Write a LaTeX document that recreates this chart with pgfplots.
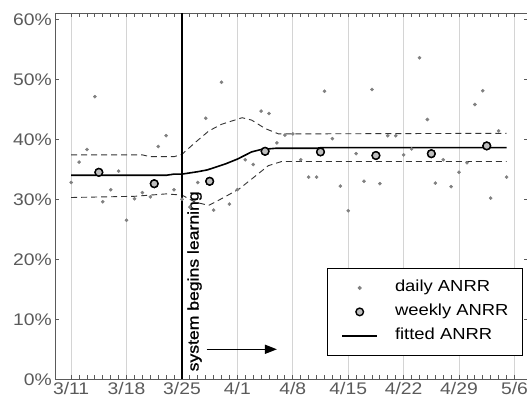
\documentclass[border=0pt]{standalone}
\usepackage{pgfplots}
\pgfplotsset{compat=1.18}
\usepackage{fontspec}
\setmainfont[FakeStretch=1.15]{Liberation Sans}
\newfontfamily\annfont[FakeStretch=1.15,FakeBold=1.2]{Liberation Sans}
\usetikzlibrary{arrows.meta}

\definecolor{dotgray}{RGB}{128,128,128}
\definecolor{wkfill}{RGB}{190,190,190}
\definecolor{axgray}{RGB}{90,90,90}

% day index: 0 = 3/11
\pgfplotstableread{
d v
0 32.8
1 36.2
2 38.3
3 47.1
4 29.6
5 31.6
6 34.7
7 26.5
8 30.1
9 31.1
10 30.4
11 38.8
12 40.6
13 31.6
14 30.0
15 28.7
16 32.8
17 43.5
18 28.2
19 49.5
20 29.2
21 31.6
22 36.6
23 35.8
24 44.7
25 44.3
26 39.4
27 40.7
28 40.9
29 36.6
30 33.7
31 33.7
32 48.0
33 40.1
34 32.2
35 28.1
36 37.6
37 33.0
38 48.3
39 32.6
40 40.6
41 40.6
42 37.4
43 38.4
44 53.6
45 43.3
46 32.7
47 36.6
48 32.1
49 34.5
50 36.1
51 45.8
52 48.1
53 30.2
54 41.4
55 33.7
}\dailytab

\pgfplotstableread{
d v
3.5 34.5
10.5 32.6
17.5 33.0
24.5 38.0
31.5 37.9
38.5 37.3
45.5 37.6
52.5 38.9
}\weeklytab

\pgfplotstableread{
d v
0 34.0
12 34.0
13 34.2
14 34.2
16 34.6
17.2 34.9
19.5 35.9
21 36.7
22.8 37.9
24 38.3
25.8 38.5
31 38.5
31.5 38.6
55 38.6
}\fittab

\pgfplotstableread{
d v
0 37.4
9 37.4
10 37.1
13 37.1
14 37.5
15.7 39.5
17.4 41.4
19 42.5
21.6 43.6
22.8 43.2
24.5 41.8
26.2 40.9
28 40.9
55 41.0
}\bandhi

\pgfplotstableread{
d v
0 30.3
8 30.5
12 30.9
14 30.7
15.7 29.5
17.4 29.0
19 30.1
21.2 31.7
23.3 33.9
24.9 35.6
26.6 36.3
55 36.3
}\bandlo

\begin{document}
\begin{tikzpicture}
\begin{axis}[
    name=ax,
    scale only axis,
    width=472.6bp, height=366bp,
    xmin=-2, xmax=57.7,
    ymin=0, ymax=61,
    xtick={0,7,...,56},
    xticklabels={3/11,3/18,3/25,4/1,4/8,4/15,4/22,4/29,5/6},
    minor x tick num=6,
    ytick={0,10,...,60},
    yticklabels={0\%,10\%,20\%,30\%,40\%,50\%,60\%},
    tick align=inside,
    xtick pos=both, ytick pos=both,
    major tick length=4bp, minor tick length=4bp,
    tick style={axgray, line width=0.8bp},
    axis line style={axgray, line width=1.2bp},
    xmajorgrids,
    major grid style={black!17, line width=0.8bp},
    tick label style={font=\fontsize{16.8bp}{20bp}\selectfont, text=axgray},
    legend style={
        at={(1,0)}, anchor=south east, xshift=-5bp, yshift=24bp,
        draw=black, line width=0.8bp,
        font=\fontsize{16bp}{19bp}\selectfont,
        inner xsep=14bp, inner ysep=12bp,
        row sep=10bp, column sep=17bp,
        nodes={inner sep=0pt, text height=11bp, text depth=3bp},
    },
    legend cell align=left,
    legend image code/.code={
        \path (0bp,0bp) (35bp,0bp);
        \draw[mark repeat=2,mark phase=2,#1] plot coordinates {(0bp,0bp) (17.5bp,0bp) (35bp,0bp)};
    },
]
% confidence band
\addplot[black!80, line width=0.9bp, dash pattern=on 6bp off 4bp, forget plot] table[x=d,y=v] {\bandhi};
\addplot[black!80, line width=0.9bp, dash pattern=on 6bp off 4bp, forget plot] table[x=d,y=v] {\bandlo};
% learning starts
\addplot[black, line width=1.7bp, forget plot] coordinates {(14,0) (14,61)};

\addplot[only marks, mark=*, mark size=1.6bp, mark options={fill=dotgray, draw=dotgray}] table[x=d,y=v] {\dailytab};
\addlegendentry{daily ANRR}
\addplot[only marks, mark=*, mark size=3.8bp, mark options={fill=wkfill, draw=black, line width=1.4bp}] table[x=d,y=v] {\weeklytab};
\addlegendentry{weekly ANRR}
\addplot[black, line width=1.6bp] table[x=d,y=v] {\fittab};
\addlegendentry{fitted ANRR}
% circles on top of the fitted line
\addplot[only marks, mark=*, mark size=3.8bp, mark options={fill=wkfill, draw=black, line width=1.4bp}, forget plot] table[x=d,y=v] {\weeklytab};

\node[rotate=90, anchor=base west, inner sep=0pt, font=\annfont\fontsize{15.3bp}{18bp}\selectfont] at (axis cs:16.1,1.3) {system begins learning};
\draw[-{Triangle[length=12bp,width=9bp]}, line width=1.4bp] (axis cs:17.1,5) -- (axis cs:26,5);
\end{axis}
\pgfresetboundingbox
\path[use as bounding box] ([xshift=-55.3bp, yshift=-20.7bp]ax.south west) rectangle ([xshift=-0.9bp, yshift=13.3bp]ax.north east);
\end{tikzpicture}
\end{document}
